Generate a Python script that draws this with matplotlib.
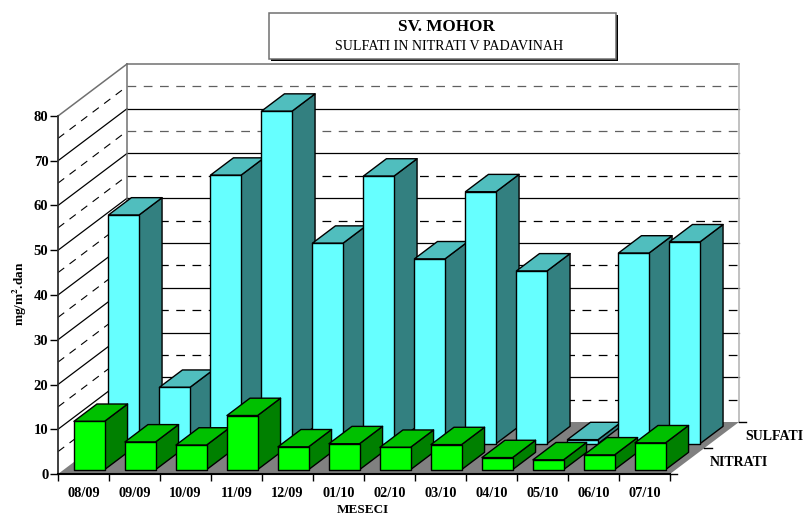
import matplotlib
matplotlib.use('Agg')
import matplotlib.pyplot as plt
from matplotlib.patches import Polygon, Rectangle

months = ['08/09', '09/09', '10/09', '11/09', '12/09', '01/10',
          '02/10', '03/10', '04/10', '05/10', '06/10', '07/10']
sulfati = [51.1, 12.6, 60.0, 74.3, 44.8, 59.8, 41.3, 56.3, 38.6, 0.9, 42.6, 45.1]
nitrati = [10.8, 6.2, 5.5, 12.1, 5.1, 5.8, 5.0, 5.6, 2.7, 2.2, 3.3, 6.0]
y_ticks = [0, 10, 20, 30, 40, 50, 60, 70, 80]

W, H = 804, 517
plt.rcParams['font.family'] = ['Liberation Serif', 'DejaVu Serif']

# depth of the fake 3d box, in data units (x = categories, y = values)
DX = 69 / 51.0
DY = 52 / 4.475
BAR_W = 0.6
BAR_DX = DX / 3
BAR_DY = DY / 3
MARGIN = 1 / 12.0
DASH = (0, (7, 6))


def box(ax, i, val, base, front, top, side, z):
    x0 = i + 0.5 - BAR_W / 2 + base * DX + MARGIN * DX
    y0 = base * DY + MARGIN * DY
    x1 = x0 + BAR_W
    y1 = y0 + val
    kw = dict(edgecolor='black', linewidth=1.0, zorder=z, clip_on=False, joinstyle='round')
    ax.add_patch(Polygon([(x1, y0), (x1 + BAR_DX, y0 + BAR_DY), (x1 + BAR_DX, y1 + BAR_DY), (x1, y1)],
                         facecolor=side, **kw))
    ax.add_patch(Polygon([(x0, y1), (x1, y1), (x1 + BAR_DX, y1 + BAR_DY), (x0 + BAR_DX, y1 + BAR_DY)],
                         facecolor=top, **kw))
    ax.add_patch(Rectangle((x0, y0), BAR_W, val, facecolor=front, **kw))


def px(x, y):
    return x / W, 1 - y / H


fig = plt.figure(figsize=(W / 100, H / 100), dpi=100)
ax = fig.add_axes([58 / W, 1 - 474 / H, 612 / W, 358 / H])
ax.set_xlim(0, 12)
ax.set_ylim(0, 80)
ax.patch.set_visible(False)

# floor
n = len(months)
ax.add_patch(Polygon([(0, 0), (n, 0), (n + DX, DY), (DX, DY)], facecolor='#808080',
                     edgecolor='none', zorder=1, clip_on=False))

# walls and gridlines
for v in range(5, 85, 5):
    if v == 80:
        side_st = back_st = dict(color='#707070', linewidth=1.1)
    elif v % 10 == 0:
        side_st = back_st = dict(color='black', linewidth=0.9)
    else:
        side_st = dict(color='black', linewidth=0.8, linestyle=DASH)
        back_st = dict(color='#606060' if v > 60 else 'black', linewidth=0.9, linestyle=DASH)
    ax.plot([0, DX], [v, v + DY], zorder=2, clip_on=False, **side_st)
    ax.plot([DX, n + DX], [v + DY, v + DY], zorder=2, clip_on=False, **back_st)
ax.plot([DX, DX], [DY, 80 + DY], color='#707070', linewidth=1.1, zorder=2, clip_on=False)
ax.plot([n + DX, n + DX], [DY, 80 + DY], color='#B0B0B0', linewidth=1.1, zorder=2, clip_on=False)

# bars, back row first
z = 3
for i, v in enumerate(sulfati):
    box(ax, i, v, 0.5, '#66FFFF', '#50BEBE', '#338080', z)
    z += 1
for i, v in enumerate(nitrati):
    box(ax, i, v, 0.0, '#00FF00', '#00C000', '#008000', z)
    z += 1

# axes
for s in ['top', 'right']:
    ax.spines[s].set_visible(False)
ax.spines['left'].set_linewidth(1.3)
ax.spines['left'].set_color('#303030')
ax.spines['bottom'].set_linewidth(1.5)
ax.spines['bottom'].set_zorder(60)
ax.set_yticks(y_ticks)
ax.set_yticklabels([str(v) for v in y_ticks], fontsize=10.5, fontweight='bold')
ax.tick_params(axis='y', length=6, width=1.0, pad=1)
ax.set_xticks(range(n + 1))
ax.set_xticklabels([])
ax.set_xticks([i + 0.5 for i in range(n)], minor=True)
ax.set_xticklabels(months, minor=True, fontsize=10.3, fontweight='bold')
ax.tick_params(axis='x', which='major', length=5, width=1.0)
ax.tick_params(axis='x', which='minor', length=0, pad=9.5)

# row end ticks and row labels on the floor edge
for f in [0, 0.5, 1]:
    ax.plot([n + f * DX, n + f * DX + 0.14], [f * DY, f * DY], color='black', linewidth=1.0,
            zorder=2, clip_on=False)
fig.text(*px(745, 436), 'SULFATI', fontsize=10, fontweight='bold', va='center', ha='left')
fig.text(*px(710, 462), 'NITRATI', fontsize=10, fontweight='bold', va='center', ha='left')

fig.text(*px(363, 510), 'MESECI', fontsize=9.5, fontweight='bold', va='center', ha='center')
fig.text(*px(20, 294), 'mg/m$^{\\mathbf{2}}$.dan', fontsize=9.5, fontweight='bold', rotation=90,
         va='center', ha='center', math_fontfamily='stix')

# title box with shadow
fig.add_artist(Rectangle(px(271, 61), 347 / W, 46 / H, facecolor='black', edgecolor='none',
                         transform=fig.transFigure, zorder=70))
fig.add_artist(Rectangle(px(269, 59), 347 / W, 45.5 / H, facecolor='white', edgecolor='#707070',
                         linewidth=1.1, transform=fig.transFigure, zorder=71))
fig.text(*px(446.7, 27), 'SV. MOHOR', fontsize=12.3, fontweight='bold', va='center', ha='center', zorder=72)
fig.text(*px(449.5, 47), 'SULFATI IN NITRATI V PADAVINAH', fontsize=10.1, va='center', ha='center', zorder=72)

fig.savefig('out.png', dpi=100)
